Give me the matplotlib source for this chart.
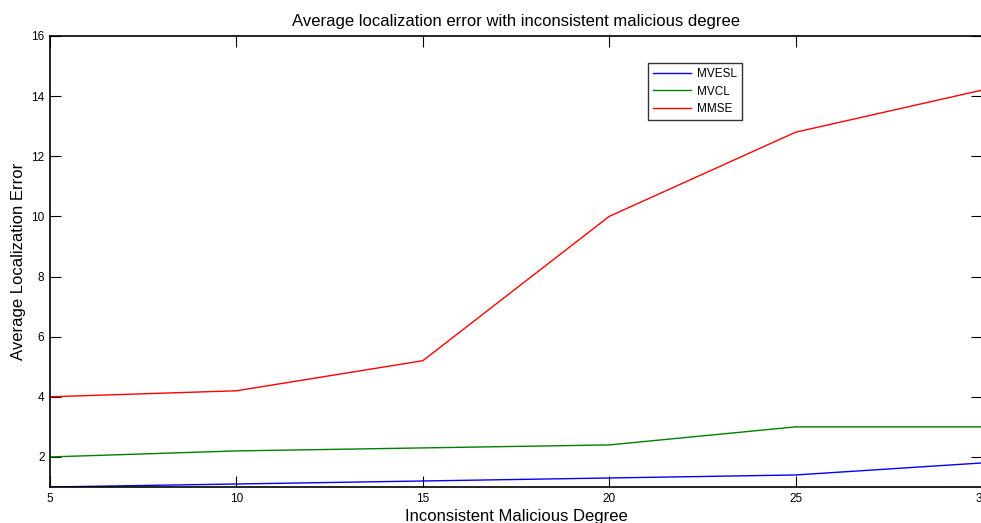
import matplotlib
matplotlib.use("Agg")
import matplotlib.pyplot as plt

plt.rcParams['font.family'] = ['Liberation Sans', 'DejaVu Sans']

degree = [5, 10, 15, 20, 25, 30]
mvesl = [1.0, 1.1, 1.2, 1.3, 1.4, 1.8]
mvcl = [2.0, 2.2, 2.3, 2.4, 3.0, 3.0]
mmse = [4.0, 4.2, 5.2, 10.0, 12.8, 14.2]
xticks = [5, 10, 15, 20, 25, 30]
yticks = [2, 4, 6, 8, 10, 12, 14, 16]

fig = plt.figure(figsize=(9.81, 5.23), dpi=100)
ax = fig.add_axes([50/981, 1 - 487/523, 932/981, (487 - 36)/523])

ax.plot(degree, mvesl, color='#0000ff', lw=1.0, label='MVESL')
ax.plot(degree, mvcl, color='#008000', lw=1.0, label='MVCL')
ax.plot(degree, mmse, color='#ff0000', lw=1.0, label='MMSE')

ax.set_xlim(5, 30)
ax.set_ylim(1, 16)
ax.set_xticks(xticks)
ax.set_yticks(yticks)
ax.tick_params(direction='in', top=True, right=True, length=8, width=0.8,
               labelsize=8.5, pad=4)
for s in ax.spines.values():
    s.set_linewidth(1.2)

ax.set_title('Average localization error with inconsistent malicious degree',
             fontsize=12, pad=7)
ax.set_xlabel('Inconsistent Malicious Degree', fontsize=12, labelpad=3)
ax.set_ylabel('Average Localization Error', fontsize=12, labelpad=4)

leg = ax.legend(loc='upper left', bbox_to_anchor=(598/932, 1 - 27/451),
                fontsize=8.5, frameon=True, fancybox=False, handlelength=3.2,
                borderpad=0.45, labelspacing=0.45, handletextpad=0.5,
                borderaxespad=0)
leg.get_frame().set_edgecolor('black')
leg.get_frame().set_linewidth(1.0)

fig.savefig('out.png', dpi=100)
